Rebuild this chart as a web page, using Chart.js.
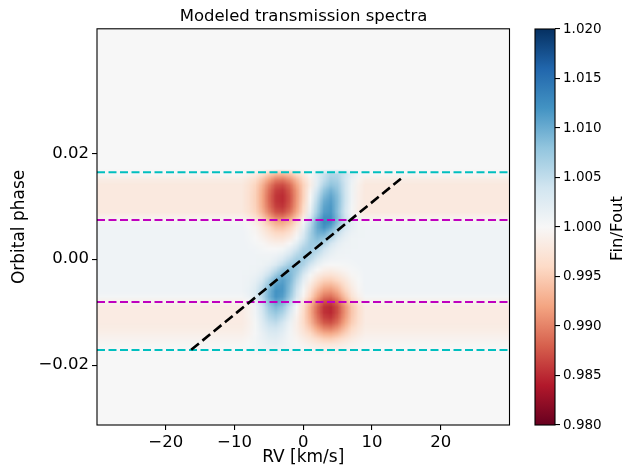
<!DOCTYPE html>
<html>
<head>
<meta charset="utf-8">
<script src="https://cdn.jsdelivr.net/npm/chart.js@4.4.1/dist/chart.umd.min.js"></script>
<style>
html,body{margin:0;padding:0;background:#ffffff;}
#wrap{position:relative;width:636px;height:470px;background:#ffffff;}
#main{position:absolute;left:0;top:0;}
#cbar{position:absolute;left:520px;top:0;}
</style>
</head>
<body>
<div id="wrap">
<canvas id="main" width="607" height="470"></canvas>
<canvas id="cbar" width="116" height="470"></canvas>
</div>
<script>
// ---------------- data ----------------
const chartTitle = 'Modeled transmission spectra';
const xLabel = 'RV [km/s]';
const yLabel = 'Orbital phase';
const cbLabel = 'Fin/Fout';

const rvSpan = [-30, 30];                 // RV axis range (km/s)
const phaseSpan = [-0.0313, 0.0435];      // orbital phase axis range
const xTicks = [-20, -10, 0, 10, 20];
const yTicks = [-0.02, 0.00, 0.02];
const cbMin = 0.98, cbMax = 1.02;
const cbTicks = [0.980, 0.985, 0.990, 0.995, 1.000, 1.005, 1.010, 1.015, 1.020];

// transit contact phases (cyan) and full-transit phases (magenta)
const contactPhases = [0.0164, -0.01715];
const fullTransitPhases = [0.0074, -0.0081];
// planet RV track (black dashed)
const trackRv = [-16.3, 14.2];
const trackPhase = [-0.0171, 0.0152];

// heat-map grid
const gridStep = 0.001;                   // phase step of model rows
const gridPhaseTop = 0.044, gridPhaseBottom = -0.032;
const outOfTransitFlux = 1.0;
const rvCore = [-8,-7,-6,-5,-4,-3,-2,-1,0,1,2,3,4,5,6,7,8];
const phaseRows = [0.016,0.015,0.014,0.013,0.012,0.011,0.010,0.009,0.008,0.007,0.006,0.005,0.004,0.003,0.002,0.001,0.000,
  -0.001,-0.002,-0.003,-0.004,-0.005,-0.006,-0.007,-0.008,-0.009,-0.010,-0.011,-0.012,-0.013,-0.014,-0.015,-0.016,-0.017];
// Fin/Fout far from line centre (|RV| >= 9 km/s), one per phase row
const bandLevel = [0.9997,0.9985,0.998,0.998,0.998,0.998,0.998,0.998,0.999,1.0004,
  1.0008,1.0008,1.0008,1.0008,1.0008,1.0008,1.0008,1.0008,1.0008,1.0008,1.0008,1.0008,1.0008,
  1.0004,0.9992,0.9983,0.9983,0.9983,0.9983,0.9985,0.9988,0.9993,0.9997,1.0];
// Fin/Fout near line centre, rows = phaseRows, columns = rvCore
const coreFlux = [
 [0.9991,0.9983,0.9967,0.9948,0.9933,0.9930,0.9941,0.9961,0.9980,1.0000,1.0021,1.0044,1.0060,1.0058,1.0041,1.0020,1.0006],
 [0.9977,0.9965,0.9944,0.9918,0.9897,0.9893,0.9908,0.9935,0.9963,0.9990,1.0019,1.0049,1.0069,1.0064,1.0039,1.0013,0.9995],
 [0.9971,0.9956,0.9931,0.9899,0.9874,0.9869,0.9887,0.9921,0.9954,0.9987,1.0023,1.0061,1.0081,1.0072,1.0042,1.0010,0.9991],
 [0.9970,0.9954,0.9925,0.9890,0.9862,0.9856,0.9877,0.9913,0.9954,0.9994,1.0037,1.0078,1.0095,1.0079,1.0042,1.0009,0.9990],
 [0.9969,0.9953,0.9923,0.9886,0.9857,0.9851,0.9873,0.9912,0.9954,0.9998,1.0047,1.0089,1.0105,1.0084,1.0043,1.0008,0.9989],
 [0.9969,0.9953,0.9923,0.9886,0.9857,0.9851,0.9873,0.9913,0.9956,1.0003,1.0055,1.0099,1.0111,1.0086,1.0043,1.0007,0.9989],
 [0.9970,0.9954,0.9925,0.9890,0.9862,0.9856,0.9878,0.9916,0.9961,1.0010,1.0063,1.0106,1.0115,1.0085,1.0041,1.0005,0.9988],
 [0.9971,0.9956,0.9931,0.9899,0.9873,0.9868,0.9888,0.9923,0.9966,1.0015,1.0069,1.0111,1.0117,1.0083,1.0038,1.0004,0.9987],
 [0.9982,0.9969,0.9947,0.9919,0.9897,0.9893,0.9910,0.9942,0.9982,1.0030,1.0083,1.0121,1.0122,1.0087,1.0042,1.0011,0.9996],
 [0.9997,0.9986,0.9968,0.9944,0.9925,0.9922,0.9937,0.9965,1.0004,1.0050,1.0099,1.0128,1.0122,1.0085,1.0045,1.0019,1.0008],
 [1.0002,0.9994,0.9978,0.9959,0.9944,0.9941,0.9954,0.9981,1.0016,1.0060,1.0101,1.0119,1.0104,1.0068,1.0036,1.0018,1.0010],
 [1.0004,0.9997,0.9985,0.9971,0.9959,0.9958,0.9969,0.9992,1.0026,1.0066,1.0096,1.0100,1.0078,1.0047,1.0024,1.0013,1.0009],
 [1.0005,1.0000,0.9992,0.9982,0.9974,0.9973,0.9983,1.0004,1.0036,1.0068,1.0087,1.0080,1.0057,1.0032,1.0017,1.0010,1.0008],
 [1.0006,1.0003,0.9998,0.9992,0.9988,0.9989,0.9999,1.0021,1.0049,1.0071,1.0075,1.0060,1.0037,1.0020,1.0012,1.0009,1.0008],
 [1.0007,1.0006,1.0003,1.0000,1.0000,1.0003,1.0017,1.0039,1.0062,1.0072,1.0062,1.0041,1.0023,1.0013,1.0009,1.0008,1.0008],
 [1.0008,1.0007,1.0006,1.0006,1.0008,1.0016,1.0033,1.0055,1.0069,1.0066,1.0048,1.0028,1.0016,1.0010,1.0008,1.0008,1.0008],
 [1.0008,1.0008,1.0009,1.0010,1.0017,1.0031,1.0051,1.0069,1.0070,1.0054,1.0032,1.0016,1.0008,1.0007,1.0006,1.0007,1.0008],
 [1.0008,1.0008,1.0010,1.0016,1.0029,1.0050,1.0071,1.0077,1.0062,1.0037,1.0016,1.0004,1.0000,1.0001,1.0003,1.0005,1.0007],
 [1.0008,1.0010,1.0015,1.0028,1.0051,1.0077,1.0087,1.0075,1.0047,1.0019,1.0000,0.9990,0.9987,0.9991,0.9996,1.0002,1.0005],
 [1.0009,1.0013,1.0023,1.0045,1.0075,1.0096,1.0092,1.0066,1.0032,1.0003,0.9984,0.9973,0.9970,0.9977,0.9987,0.9997,1.0003],
 [1.0011,1.0018,1.0036,1.0066,1.0098,1.0110,1.0092,1.0055,1.0019,0.9991,0.9968,0.9953,0.9951,0.9960,0.9976,0.9991,1.0001],
 [1.0012,1.0023,1.0047,1.0082,1.0112,1.0115,1.0087,1.0047,1.0010,0.9980,0.9953,0.9934,0.9931,0.9944,0.9965,0.9985,0.9998],
 [1.0014,1.0027,1.0055,1.0093,1.0120,1.0116,1.0084,1.0040,1.0003,0.9969,0.9938,0.9915,0.9911,0.9927,0.9954,0.9979,0.9996],
 [1.0011,1.0026,1.0056,1.0094,1.0119,1.0111,1.0076,1.0033,0.9994,0.9958,0.9922,0.9895,0.9890,0.9909,0.9941,0.9971,0.9990],
 [1.0000,1.0016,1.0047,1.0084,1.0106,1.0095,1.0059,1.0016,0.9977,0.9939,0.9901,0.9871,0.9865,0.9886,0.9922,0.9955,0.9976],
 [0.9991,1.0007,1.0037,1.0072,1.0090,1.0076,1.0041,1.0001,0.9965,0.9927,0.9887,0.9855,0.9849,0.9871,0.9909,0.9944,0.9966],
 [0.9991,1.0007,1.0034,1.0064,1.0078,1.0063,1.0031,0.9996,0.9963,0.9926,0.9886,0.9855,0.9849,0.9871,0.9909,0.9944,0.9966],
 [0.9991,1.0005,1.0030,1.0055,1.0065,1.0050,1.0021,0.9992,0.9962,0.9929,0.9892,0.9863,0.9857,0.9878,0.9913,0.9946,0.9967],
 [0.9990,1.0003,1.0024,1.0045,1.0051,1.0036,1.0012,0.9988,0.9963,0.9935,0.9902,0.9877,0.9872,0.9890,0.9922,0.9950,0.9969],
 [0.9992,1.0003,1.0020,1.0036,1.0039,1.0027,1.0007,0.9988,0.9969,0.9947,0.9920,0.9900,0.9896,0.9911,0.9936,0.9959,0.9974],
 [0.9993,1.0002,1.0015,1.0027,1.0029,1.0020,1.0005,0.9991,0.9976,0.9960,0.9941,0.9927,0.9924,0.9934,0.9952,0.9969,0.9980],
 [0.9997,1.0004,1.0013,1.0021,1.0022,1.0015,1.0004,0.9995,0.9986,0.9975,0.9963,0.9953,0.9951,0.9958,0.9970,0.9981,0.9988],
 [1.0000,1.0004,1.0010,1.0016,1.0017,1.0012,1.0005,0.9998,0.9993,0.9987,0.9981,0.9976,0.9975,0.9979,0.9985,0.9991,0.9994],
 [1.0001,1.0004,1.0007,1.0009,1.0010,1.0007,1.0004,1.0002,0.9998,0.9996,0.9993,0.9991,0.9990,0.9992,0.9995,0.9997,0.9999]
];

// ---------------- styling ----------------
const FONT = "'DejaVu Sans', 'Liberation Sans', sans-serif";
const rdbuStops = ['#67001f','#b2182b','#d6604d','#f4a582','#fddbc7','#f7f7f7','#d1e5f0','#92c5de','#4393c3','#2166ac','#053061'];
const rdbuRGB = rdbuStops.map(h => [parseInt(h.slice(1,3),16), parseInt(h.slice(3,5),16), parseInt(h.slice(5,7),16)]);
function rdbu(t) {
  t = Math.max(0, Math.min(1, t));
  const s = t * 10; const i = Math.min(9, Math.floor(s)); const f = s - i;
  const a = rdbuRGB[i], b = rdbuRGB[i + 1];
  return [a[0] + (b[0]-a[0])*f, a[1] + (b[1]-a[1])*f, a[2] + (b[2]-a[2])*f];
}
function fmt(v, d) {
  const s = Math.abs(v).toFixed(d);
  return (v < -1e-12 ? '\u2212' : '') + s;
}

// build the model table (image with one pixel per cell)
function buildHeatImage() {
  const cols = [];
  for (let rv = rvSpan[0]; rv <= rvSpan[1]; rv++) cols.push(rv);
  const rows = [];
  const nRows = Math.round((gridPhaseTop - gridPhaseBottom) / gridStep) + 1;
  for (let k = 0; k < nRows; k++) rows.push(+(gridPhaseTop - k * gridStep).toFixed(5));
  const cv = document.createElement('canvas');
  cv.width = cols.length; cv.height = rows.length;
  const c2 = cv.getContext('2d');
  const im = c2.createImageData(cols.length, rows.length);
  rows.forEach((ph, j) => {
    const r = phaseRows.findIndex(p => Math.abs(p - ph) < 1e-7);
    cols.forEach((rv, i) => {
      let v = outOfTransitFlux;
      if (r >= 0) {
        const ci = rvCore.indexOf(rv);
        v = ci >= 0 ? coreFlux[r][ci] : bandLevel[r];
      }
      const c = rdbu((v - cbMin) / (cbMax - cbMin));
      const o = (j * cols.length + i) * 4;
      im.data[o] = Math.round(c[0]); im.data[o+1] = Math.round(c[1]); im.data[o+2] = Math.round(c[2]); im.data[o+3] = 255;
    });
  });
  c2.putImageData(im, 0, 0);
  return {cv, cols, rows};
}
const heat = buildHeatImage();

const heatmapPlugin = {
  id: 'heatmap',
  beforeDatasetsDraw(chart) {
    const {ctx, chartArea: a, scales: {x, y}} = chart;
    const x0 = x.getPixelForValue(heat.cols[0] - 0.5);
    const x1 = x.getPixelForValue(heat.cols[heat.cols.length - 1] + 0.5);
    const y0 = y.getPixelForValue(heat.rows[0] + gridStep / 2);
    const y1 = y.getPixelForValue(heat.rows[heat.rows.length - 1] - gridStep / 2);
    ctx.save();
    ctx.beginPath(); ctx.rect(a.left, a.top, a.right - a.left, a.bottom - a.top); ctx.clip();
    ctx.imageSmoothingEnabled = true;
    ctx.drawImage(heat.cv, x0, y0, x1 - x0, y1 - y0);
    ctx.restore();
  },
  afterDatasetsDraw(chart) {
    const {ctx, chartArea: a} = chart;
    ctx.save();
    ctx.strokeStyle = '#000'; ctx.lineWidth = 1.1;
    ctx.strokeRect(a.left, a.top, a.right - a.left, a.bottom - a.top);
    ctx.restore();
  }
};

function hline(ph, color) {
  return {data: [{x: rvSpan[0], y: ph}, {x: rvSpan[1], y: ph}], borderColor: color, borderWidth: 2,
          borderDash: [8, 3.5], showLine: true, pointRadius: 0, pointHoverRadius: 0, fill: false};
}

new Chart(document.getElementById('main'), {
  type: 'scatter',
  data: {
    datasets: [
      {data: trackRv.map((v, i) => ({x: v, y: trackPhase[i]})), borderColor: '#000000', borderWidth: 2.6,
       borderDash: [10, 4.5], showLine: true, pointRadius: 0, pointHoverRadius: 0, fill: false},
      hline(fullTransitPhases[0], '#bf00bf'),
      hline(fullTransitPhases[1], '#bf00bf'),
      hline(contactPhases[0], '#00bfbf'),
      hline(contactPhases[1], '#00bfbf')
    ]
  },
  options: {
    responsive: false, animation: false, devicePixelRatio: 1,
    layout: {padding: 0},
    plugins: {
      legend: {display: false}, tooltip: {enabled: false},
      title: {display: true, text: chartTitle, color: '#000',
              font: {family: FONT, size: 16.5, weight: 'normal'}, padding: {top: 7, bottom: 2}}
    },
    scales: {
      x: {
        type: 'linear', min: rvSpan[0], max: rvSpan[1],
        afterBuildTicks: s => { s.ticks = xTicks.map(v => ({value: v})); },
        ticks: {callback: v => fmt(v, 0), color: '#000', font: {family: FONT, size: 16.5}, padding: 2.5, maxRotation: 0, autoSkip: false},
        grid: {display: true, drawOnChartArea: false, drawTicks: true, tickLength: 5, color: '#000', lineWidth: 1.1},
        border: {display: false},
        title: {display: true, text: xLabel, color: '#000', font: {family: FONT, size: 17}, padding: {top: 0, bottom: 2}},
        afterFit: s => { s.height = 45; }
      },
      y: {
        type: 'linear', position: 'left', min: phaseSpan[0], max: phaseSpan[1],
        afterBuildTicks: s => { s.ticks = yTicks.map(v => ({value: v})); },
        ticks: {callback: v => fmt(v, 2), color: '#000', font: {family: FONT, size: 16.5}, padding: 3, autoSkip: false},
        grid: {display: true, drawOnChartArea: false, drawTicks: true, tickLength: 5, color: '#000', lineWidth: 1.1},
        border: {display: false},
        title: {display: true, text: yLabel, color: '#000', font: {family: FONT, size: 17}, padding: {top: 9.4, bottom: 0}},
        afterFit: s => { s.width = 97; }
      },
      ySpace: {
        type: 'linear', position: 'right', display: true,
        ticks: {display: false}, grid: {display: false}, border: {display: false},
        afterFit: s => { s.width = 97.5; }
      }
    }
  },
  plugins: [heatmapPlugin]
});

// ---------------- colour bar ----------------
const cbarPlugin = {
  id: 'cbarFrame',
  afterDatasetsDraw(chart) {
    const {ctx, chartArea: a} = chart;
    ctx.save();
    ctx.strokeStyle = '#000'; ctx.lineWidth = 1.1;
    ctx.strokeRect(a.left, a.top, a.right - a.left, a.bottom - a.top);
    ctx.translate(102, (a.top + a.bottom) / 2 + 1.5);
    ctx.rotate(-Math.PI / 2);
    ctx.fillStyle = '#000';
    ctx.font = "16.5px " + FONT;
    ctx.textAlign = 'center'; ctx.textBaseline = 'alphabetic';
    ctx.fillText(cbLabel, 0, 0);
    ctx.restore();
  }
};

new Chart(document.getElementById('cbar'), {
  type: 'bar',
  data: {
    labels: [cbLabel],
    datasets: [{
      data: [[cbMin, cbMax]],
      backgroundColor: c => {
        const ch = c.chart; const ys = ch.scales.y;
        if (!ys || !ch.chartArea) return '#f7f7f7';
        const g = ch.ctx.createLinearGradient(0, ys.getPixelForValue(cbMin), 0, ys.getPixelForValue(cbMax));
        rdbuStops.forEach((col, i) => g.addColorStop(i / 10, col));
        return g;
      },
      borderWidth: 0, barPercentage: 1, categoryPercentage: 1
    }]
  },
  options: {
    responsive: false, animation: false, devicePixelRatio: 1,
    layout: {padding: {left: 15, top: 29, bottom: 45, right: 0}},
    plugins: {legend: {display: false}, tooltip: {enabled: false}, title: {display: false}},
    scales: {
      x: {display: false},
      y: {
        position: 'right', min: cbMin, max: cbMax,
        afterBuildTicks: s => { s.ticks = cbTicks.map(v => ({value: v})); },
        ticks: {callback: v => v.toFixed(3), color: '#000', font: {family: FONT, size: 13.5}, padding: 3, autoSkip: false},
        grid: {display: true, drawOnChartArea: false, drawTicks: true, tickLength: 5, color: '#000', lineWidth: 1.1},
        border: {display: false},
        afterFit: s => { s.width = 81; }
      }
    }
  },
  plugins: [cbarPlugin]
});
</script>
</body>
</html>
